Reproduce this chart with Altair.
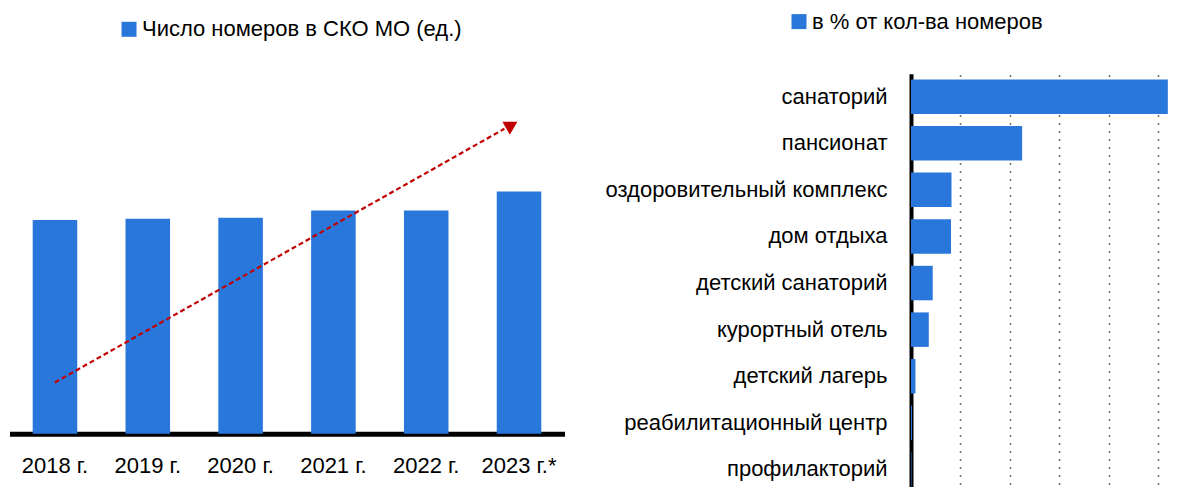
import altair as alt
import pandas as pd

# ---- data ----
years = ["2018 г.", "2019 г.", "2020 г.", "2021 г.", "2022 г.", "2023 г.*"]
rooms = [21370, 21500, 21600, 22330, 22330, 24230]

# trend arrow (x in band units 0..6, y in data units)
arrow_x = [0.49, 5.35]
arrow_y = [5130, 30500]
head_x = [5.43]
head_y = [30880]

types = ["санаторий", "пансионат", "оздоровительный комплекс", "дом отдыха",
         "детский санаторий", "курортный отель", "детский лагерь",
         "реабилитационный центр", "профилакторий"]
shares = [52.0, 22.5, 8.2, 8.1, 4.4, 3.6, 0.9, 0.2, 0.1]

left_legend = "Число номеров в СКО МО (ед.)"
right_legend = "в % от кол-ва номеров"

BLUE = "#2A77DC"
RED = "#C00000"
FONT = "Liberation Sans, Arial, sans-serif"
FS = 22

# ---- left chart ----
df_left = pd.DataFrame({"year": years, "rooms": rooms, "series": [left_legend] * len(years)})
bars = alt.Chart(df_left).mark_bar().encode(
    x=alt.X("year:N", sort=years,
            scale=alt.Scale(paddingInner=0.52, paddingOuter=0.25),
            axis=alt.Axis(title=None, labelAngle=0, ticks=False, grid=False,
                          domainColor="black", domainWidth=5,
                          labelFont=FONT, labelFontSize=FS, labelColor="black",
                          labelPadding=22)),
    y=alt.Y("rooms:Q", scale=alt.Scale(domain=[0, 36000], nice=False), axis=None),
    color=alt.Color("series:N", scale=alt.Scale(range=[BLUE]),
                    legend=alt.Legend(title=None, orient="none", legendX=108.5, legendY=-55.5,
                                      symbolType="square", symbolSize=225,
                                      symbolStrokeWidth=0, symbolOpacity=1,
                                      labelFont=FONT, labelFontSize=FS,
                                      labelColor="black", labelOffset=2, labelLimit=600)),
)

df_arrow = pd.DataFrame({"x": [arrow_x[0]], "x2": [arrow_x[1]],
                         "y": [arrow_y[0]], "y2": [arrow_y[1]]})
xq = alt.Scale(domain=[0, 6], nice=False, zero=False)
yq = alt.Scale(domain=[0, 36000], nice=False)
line = alt.Chart(df_arrow).mark_rule(color=RED, strokeWidth=2.2, strokeDash=[5, 3]).encode(
    x=alt.X("x:Q", scale=xq, axis=None), x2="x2:Q",
    y=alt.Y("y:Q", scale=yq, axis=None), y2="y2:Q",
)
df_head = pd.DataFrame({"x": head_x, "y": head_y})
head = alt.Chart(df_head).mark_point(shape="triangle-up", filled=True, size=225,
                                     angle=60.6, color=RED, opacity=1).encode(
    x=alt.X("x:Q", scale=xq, axis=None),
    y=alt.Y("y:Q", scale=yq, axis=None),
)

left = alt.layer(bars, line, head).resolve_scale(x="independent").properties(width=555, height=360)

# ---- right chart ----
df_right = pd.DataFrame({"type": types, "share": shares, "series": [right_legend] * len(types)})
right = alt.Chart(df_right).mark_bar().encode(
    y=alt.Y("type:N", sort=types,
            scale=alt.Scale(paddingInner=0.26, paddingOuter=0.12),
            axis=alt.Axis(title=None, ticks=False, tickSize=0,
                          domainColor="black", domainWidth=4,
                          labelFont=FONT, labelFontSize=FS, labelColor="black",
                          labelPadding=24, labelLimit=500)),
    x=alt.X("share:Q", scale=alt.Scale(domain=[0, 56], nice=False),
            axis=alt.Axis(title=None, values=[10, 20, 30, 40, 50], labels=False,
                          ticks=False, domain=False, grid=True,
                          gridColor="#404040", gridDash=[1.5, 6.5], gridWidth=1.5)),
    color=alt.Color("series:N", scale=alt.Scale(range=[BLUE]),
                    legend=alt.Legend(title=None, orient="none", legendX=-123, legendY=-63.2,
                                      symbolType="square", symbolSize=225,
                                      symbolStrokeWidth=0, symbolOpacity=1,
                                      labelFont=FONT, labelFontSize=FS,
                                      labelColor="black", labelOffset=2, labelLimit=600)),
).properties(width=276.6, height=418.5)

chart = alt.hconcat(left, right, spacing=346.5, bounds="flush").resolve_scale(
    color="independent"
).resolve_legend(color="independent").properties(
    padding={"left": 1.5, "top": 1.8, "right": 0, "bottom": 0}
).configure_view(stroke=None)

chart.save("out.html", embed_options={"renderer": "svg", "actions": False})
